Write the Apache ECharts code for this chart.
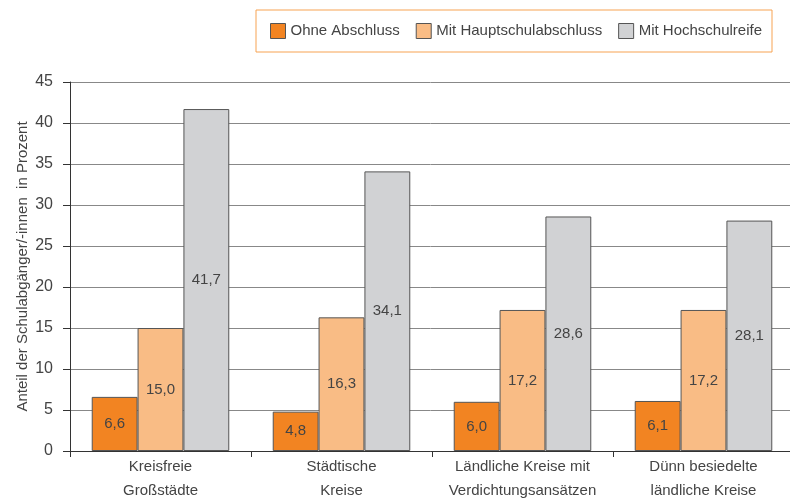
<!DOCTYPE html>
<html>
<head>
<meta charset="utf-8">
<script src="https://cdn.jsdelivr.net/npm/echarts@6/dist/echarts.min.js"></script>
<style>
  html, body { margin: 0; padding: 0; background: #fff; }
  #chart { width: 790px; height: 500px; }
</style>
</head>
<body>
<div id="chart"></div>
<script>
// Kategorien und Werte
var categories = [
  "Kreisfreie\nGroßstädte",
  "Städtische\nKreise",
  "Ländliche Kreise mit\nVerdichtungsansätzen",
  "Dünn besiedelte\nländliche Kreise"
];
var ohneAbschluss = [6.6, 4.8, 6.0, 6.1];
var hauptschulabschluss = [15.0, 16.3, 17.2, 17.2];
var hochschulreife = [41.7, 34.1, 28.6, 28.1];
var seriesNames = ["Ohne Abschluss", "Mit Hauptschulabschluss", "Mit Hochschulreife"];
var colors = ["#f28422", "#f9bc85", "#d1d2d4"];

var fontFamily = "Liberation Sans, Arial, sans-serif";

function barSeries(name, data, color) {
  return {
    name: name,
    type: "bar",
    data: data,
    barGap: 0,
    barCategoryGap: "24%",
    itemStyle: { color: color, borderColor: "#555", borderWidth: 1 },
    label: {
      show: true,
      position: "inside",
      color: "#444",
      fontSize: 15,
      fontFamily: fontFamily,
      formatter: function (p) { return p.value.toFixed(1).replace(".", ","); }
    }
  };
}

var chart = echarts.init(document.getElementById("chart"));
chart.setOption({
  animation: false,
  color: colors,
  textStyle: { fontFamily: fontFamily },
  legend: {
    left: 256,
    top: 10,
    padding: [13, 10, 13, 14],
    borderColor: "#f7a352",
    borderWidth: 1,
    itemWidth: 15,
    itemHeight: 15,
    itemGap: 16,
    icon: "rect",
    textStyle: { color: "#444", fontSize: 15, fontFamily: fontFamily },
    data: seriesNames.map(function (n) {
      return { name: n, itemStyle: { borderColor: "#555", borderWidth: 1 } };
    })
  },
  grid: { left: 70, top: 82, width: 724, bottom: 49, containLabel: false, outerBoundsMode: "none" },
  xAxis: {
    type: "category",
    data: categories,
    axisLine: { lineStyle: { color: "#333", width: 1 } },
    axisTick: { show: true, interval: 0, length: 6, lineStyle: { color: "#333" } },
    axisLabel: { interval: 0, color: "#444", fontSize: 15, lineHeight: 24, margin: 4, fontFamily: fontFamily }
  },
  yAxis: {
    type: "value",
    min: 0,
    max: 45,
    interval: 5,
    name: "Anteil der Schulabgänger/-innen  in Prozent",
    nameLocation: "middle",
    nameGap: 40,
    nameMoveOverlap: false,
    nameTextStyle: { color: "#444", fontSize: 15, fontFamily: fontFamily },
    axisLine: { show: true, lineStyle: { color: "#333" } },
    axisTick: { show: true, length: 7, lineStyle: { color: "#333" } },
    axisLabel: { color: "#444", fontSize: 16, margin: 17, fontFamily: fontFamily },
    splitLine: { lineStyle: { color: "#888", width: 1 } }
  },
  series: [
    barSeries(seriesNames[0], ohneAbschluss, colors[0]),
    barSeries(seriesNames[1], hauptschulabschluss, colors[1]),
    barSeries(seriesNames[2], hochschulreife, colors[2])
  ]
});
</script>
</body>
</html>
